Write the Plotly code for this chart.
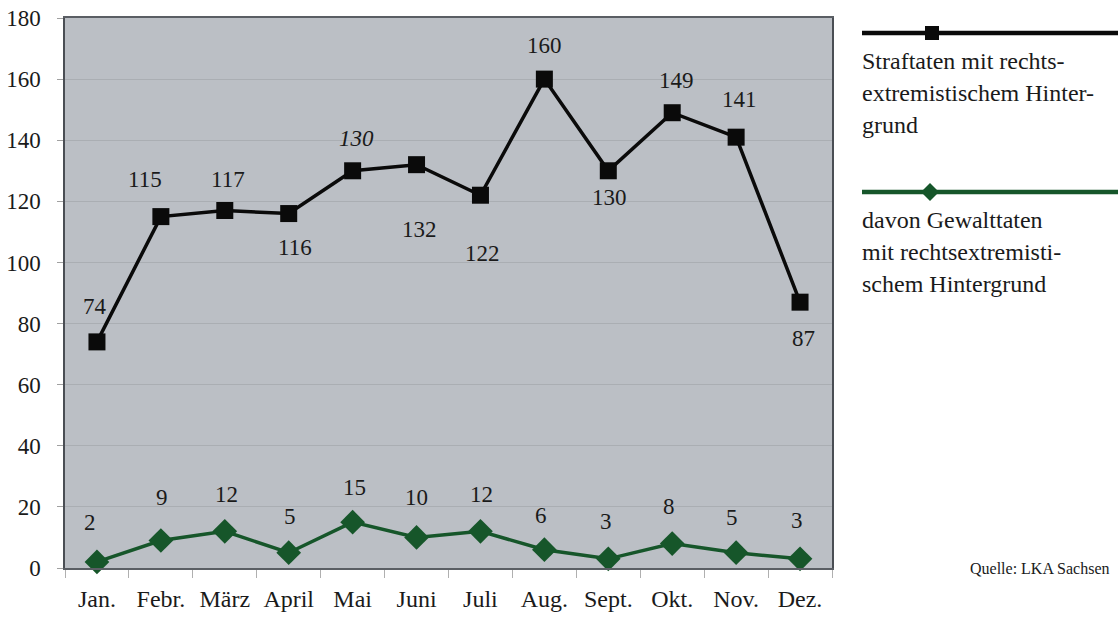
import plotly.graph_objects as go

months = ["Jan.", "Febr.", "März", "April", "Mai", "Juni", "Juli", "Aug.", "Sept.", "Okt.", "Nov.", "Dez."]
straftaten = [74, 115, 117, 116, 130, 132, 122, 160, 130, 149, 141, 87]
gewalttaten = [2, 9, 12, 5, 15, 10, 12, 6, 3, 8, 5, 3]
y_ticks = [0, 20, 40, 60, 80, 100, 120, 140, 160, 180]

legend_lines = [
    ["Straftaten mit rechts-", "extremistischem Hinter-", "grund"],
    ["davon Gewalttaten", "mit rechtsextremisti-", "schem Hintergrund"],
]
source = "Quelle: LKA Sachsen"

# label offsets (pixels) for the value labels
black_shift = [(-2, 35), (-16, 37), (3, 31), (6, -34), (4, 32), (3, -65), (2, -58), (0, 34), (1, -27), (4, 32), (3, 38), (3, -36)]
green_shift = [(-7, 39), (1, 43), (2, 37), (1, 36), (2, 35), (0, 40), (1, 37), (-3, 34), (-2, 37), (-3, 37), (-4, 35), (-3, 38)]
black_italic = [False, False, False, False, True, False, False, False, False, False, False, False]

BLACK = "#0a0a0a"
GREEN = "#16562a"
TXT = "#1a1a1a"
FONT = "Liberation Serif, Times New Roman, serif"

fig = go.Figure()
fig.add_trace(go.Scatter(
    x=months, y=straftaten, mode="lines+markers",
    line=dict(color=BLACK, width=3.5),
    marker=dict(symbol="square", size=17, color=BLACK),
    showlegend=False, cliponaxis=False,
))
fig.add_trace(go.Scatter(
    x=months, y=gewalttaten, mode="lines+markers",
    line=dict(color=GREEN, width=3.5),
    marker=dict(symbol="diamond", size=19, color=GREEN),
    showlegend=False, cliponaxis=False,
))

annotations = []
for m, v, (dx, dy), it in zip(months, straftaten, black_shift, black_italic):
    t = f"<i>{v}</i>" if it else str(v)
    annotations.append(dict(x=m, y=v, xref="x", yref="y", text=t, showarrow=False,
                            xshift=dx, yshift=dy, font=dict(family=FONT, size=23, color=TXT)))
for m, v, (dx, dy) in zip(months, gewalttaten, green_shift):
    annotations.append(dict(x=m, y=v, xref="x", yref="y", text=str(v), showarrow=False,
                            xshift=dx, yshift=dy, font=dict(family=FONT, size=23, color=TXT)))

# page body margin is removed by the post script, so figure pixels = page pixels
FW, FH = 1118, 621
L, R, T, B = 65, 832, 18, 568
W, H = R - L, B - T
def px(xp):
    return (xp - L) / W
def py(yp):
    return (B - yp) / H

shapes = []
legend_y = [33, 192]
legend_colors = [BLACK, GREEN]
for i, (ly, col) in enumerate(zip(legend_y, legend_colors)):
    shapes.append(dict(type="line", xref="paper", yref="paper", x0=px(862), x1=px(1130),
                       y0=py(ly), y1=py(ly), line=dict(color=col, width=4.5)))
    for j, t in enumerate(legend_lines[i]):
        annotations.append(dict(x=px(860), y=py(ly + 28 + 32 * j), xref="paper", yref="paper",
                                xanchor="left", yanchor="middle", text=t, showarrow=False,
                                font=dict(family=FONT, size=24, color=TXT)))
# square marker
shapes.append(dict(type="rect", xref="paper", yref="paper", x0=px(925), x1=px(939),
                   y0=py(40), y1=py(26), fillcolor=BLACK, line=dict(width=0)))
# diamond marker
cx, cy, r = 930, 192, 9
shapes.append(dict(type="path", xref="paper", yref="paper",
                   path=f"M {px(cx - r)} {py(cy)} L {px(cx)} {py(cy - r)} L {px(cx + r)} {py(cy)} L {px(cx)} {py(cy + r)} Z",
                   fillcolor=GREEN, line=dict(width=0)))

annotations.append(dict(x=px(1112), y=py(568), xref="paper", yref="paper", xanchor="right",
                        yanchor="middle", text=source, showarrow=False,
                        font=dict(family=FONT, size=16, color=TXT)))

fig.update_layout(
    width=FW, height=FH, autosize=False,
    margin=dict(l=L, r=FW - R, t=T, b=FH - B, autoexpand=False),
    paper_bgcolor="white", plot_bgcolor="#bbbfc5",
    shapes=shapes, annotations=annotations,
    font=dict(family=FONT, color=TXT),
)
fig.update_xaxes(
    type="category", range=[-0.5, 11.5], showgrid=False, automargin=False,
    showline=True, linecolor="#5a5e64", linewidth=1.5, mirror=True,
    ticks="outside", tickson="boundaries", ticklen=8, tickcolor="#b0b0b0",
    tickfont=dict(family=FONT, size=24, color=TXT), ticklabelstandoff=8,
    ticklabeloverflow="allow",
)
fig.update_yaxes(
    range=[0, 180], tickvals=y_ticks, showgrid=True, gridcolor="#aaaeb3", gridwidth=1,
    automargin=False, ticklabeloverflow="allow",
    showline=True, linecolor="#4a4e54", linewidth=1.5, mirror=True,
    ticks="outside", ticklen=6, tickcolor="#a0a0a0", zeroline=False,
    tickfont=dict(family=FONT, size=23, color=TXT), ticklabelstandoff=12,
)

fig.write_html("out.html", config={"displayModeBar": False},
               post_script="document.body.style.margin='0px';")
